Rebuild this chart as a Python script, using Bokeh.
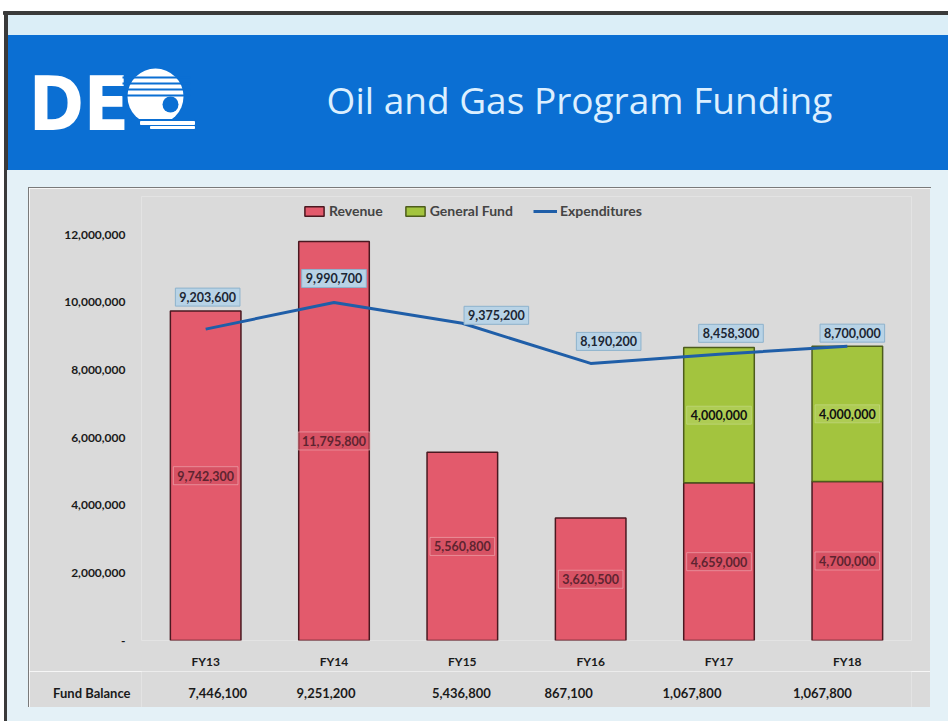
import numpy as np
from bokeh.plotting import figure
from bokeh.models import (Range1d, ColumnDataSource, FixedTicker, NumeralTickFormatter,
                          Legend, LegendItem, Spacer)
from bokeh.layouts import column, row
from bokeh.core.properties import value
from bokeh.embed import file_html
from bokeh.resources import INLINE

# ---------------- data ----------------
fiscal_years = ["FY13", "FY14", "FY15", "FY16", "FY17", "FY18"]
revenue = [9742300, 11795800, 5560800, 3620500, 4659000, 4700000]
general_fund = [None, None, None, None, 4000000, 4000000]
expenditures = [9203600, 9990700, 9375200, 8190200, 8458300, 8700000]
fund_balance = [7446100, 9251200, 5436800, 867100, 1067800, 1067800]
fund_balance_label = "Fund Balance"
y_ticks = [0, 2000000, 4000000, 6000000, 8000000, 10000000, 12000000]
title_text = "Oil and Gas Program Funding"

# label nudges in screen pixels (layout only)
exp_dx = [2, 0, 34, 18, 12, 5]
exp_dy = [-32, -24, -8, -22, -21, -13]
fb_dx = [12, -8, -1, -22, -27, -25]

# ---------------- styles ----------------
RED = "#e35a6c"
RED_EDGE = "#4a1820"
GREEN = "#a3c43e"
GREEN_EDGE = "#4d5c1c"
LINE_BLUE = "#1f5ea8"
GREY = "#dadada"
PALE = "#e4f1f7"
HEADER_BLUE = "#0b6fd3"
FONT = "Lato"
TXT = "#1a1a1a"

gf = np.array([np.nan if g is None else g for g in general_fund], dtype=float)
rev = np.array(revenue, dtype=float)
src = ColumnDataSource(dict(
    fy=fiscal_years,
    revenue=rev,
    general=gf,
    exp=np.array(expenditures, dtype=float),
    rev_mid=rev / 2.0,
    rev_txt=[f"{v:,}" for v in revenue],
    exp_txt=[f"{v:,}" for v in expenditures],
    dx=exp_dx,
    dy=exp_dy,
))
gi = [i for i, g in enumerate(general_fund) if g]
gsrc = ColumnDataSource(dict(
    fy=[fiscal_years[i] for i in gi],
    mid=[revenue[i] + general_fund[i] / 2.0 for i in gi],
    txt=[f"{general_fund[i]:,}" for i in gi],
))

# ---------------- chart ----------------
# frame: 444 px tall, 12,000,000 sits 406 px above the baseline
y_top = 12000000 * 444 / 406
p = figure(x_range=fiscal_years, y_range=Range1d(0, y_top),
           width=901, height=483, output_backend="svg", toolbar_location=None,
           min_border_left=112, min_border_right=19, min_border_top=8, min_border_bottom=31,
           background_fill_color=GREY, border_fill_color=GREY, outline_line_color=None)
p.xgrid.visible = False
p.ygrid.visible = False

rs = p.vbar_stack(["revenue", "general"], x="fy", width=0.55, source=src,
                  fill_color=[RED, GREEN], line_color=[RED_EDGE, GREEN_EDGE], line_width=1.5)
lr = p.line(x="fy", y="exp", source=src, line_color=LINE_BLUE, line_width=3)

p.text(x="fy", y="rev_mid", text="rev_txt", source=src,
       text_font=value(FONT), text_font_style="bold", text_font_size="12.5px",
       text_align="center", text_baseline="middle", text_color="#5e2430",
       background_fill_color="#c84a5c", background_fill_alpha=0.45,
       border_line_color="#f0b0b8", border_line_alpha=0.6, padding=4)
p.text(x="fy", y="mid", text="txt", source=gsrc,
       text_font=value(FONT), text_font_style="bold", text_font_size="12.5px",
       text_align="center", text_baseline="middle", text_color="#111111",
       background_fill_color="#b9d46a", background_fill_alpha=0.5,
       border_line_color="#c8dc8c", border_line_alpha=0.6, padding=4)
p.text(x="fy", y="exp", text="exp_txt", source=src, x_offset="dx", y_offset="dy",
       text_font=value(FONT), text_font_style="bold", text_font_size="12.5px",
       text_align="center", text_baseline="middle", text_color="#1c2633",
       background_fill_color="#b8d3e6", background_fill_alpha=1.0,
       border_line_color="#8db2cc", padding=4)


def style_axis(ax, size, standoff):
    ax.axis_line_color = None
    ax.major_tick_line_color = None
    ax.minor_tick_line_color = None
    ax.major_tick_out = 0
    ax.major_tick_in = 0
    ax.major_label_standoff = standoff
    ax.major_label_text_font = FONT
    ax.major_label_text_font_style = "bold"
    ax.major_label_text_font_size = size
    ax.major_label_text_color = TXT


# y axis
yax = p.yaxis[0]
yax.ticker = FixedTicker(ticks=y_ticks)
yax.formatter = NumeralTickFormatter(format="0,0")
yax.major_label_overrides = {0: "-"}
style_axis(yax, "12px", 16)

# x axis (fiscal years)
style_axis(p.xaxis[0], "12px", 13)

legend = Legend(items=[LegendItem(label="Revenue", renderers=[rs[0]]),
                       LegendItem(label="General Fund", renderers=[rs[1]]),
                       LegendItem(label="Expenditures", renderers=[lr])],
                orientation="horizontal", location=(161, 421),
                background_fill_alpha=0, border_line_color=None,
                label_text_font=FONT, label_text_font_style="bold", label_text_font_size="14px",
                glyph_width=24, glyph_height=12, label_standoff=3, spacing=20,
                padding=0, margin=0, label_height=16)
p.add_layout(legend, "center")

# ---------------- fund balance row (shares the category scale) ----------------
fb = figure(x_range=p.x_range, y_range=Range1d(0, 1.2), width=901, height=36,
            output_backend="svg", toolbar_location=None, x_axis_type=None,
            min_border_left=112, min_border_right=19, min_border_top=0, min_border_bottom=0,
            outline_line_color=None, background_fill_color=GREY, border_fill_color=GREY)
fb.xgrid.visible = False
fb.ygrid.visible = False
fb_src = ColumnDataSource(dict(
    fy=fiscal_years,
    y=[0.5] * len(fiscal_years),
    txt=[f"{v:,}" for v in fund_balance],
    dx=fb_dx,
))
fb.text(x="fy", y="y", text="txt", source=fb_src, x_offset="dx",
        text_font=value(FONT), text_font_style="bold", text_font_size="13px",
        text_color=TXT, text_align="center", text_baseline="middle")
fbax = fb.yaxis[0]
fbax.ticker = FixedTicker(ticks=[0.5])
fbax.major_label_overrides = {0.5: fund_balance_label}
style_axis(fbax, "13px", 11)

chart_box = column(p, fb, styles={"outline": "1px solid #7a7a7a"})

# ---------------- header ----------------
h = figure(width=948, height=170, x_range=Range1d(0, 948), y_range=Range1d(170, 0),
           output_backend="svg", toolbar_location=None, x_axis_type=None, y_axis_type=None,
           min_border=0, outline_line_color=None, background_fill_color="white",
           border_fill_color="white")
h.xgrid.visible = False
h.ygrid.visible = False
h.quad(left=[7], right=[948], top=[14], bottom=[35], color="#dbeef7")
h.quad(left=[7], right=[948], top=[35], bottom=[170], color=HEADER_BLUE)
h.quad(left=[3], right=[948], top=[11], bottom=[14], color="#3a3a3a")
h.quad(left=[4], right=[7], top=[11], bottom=[170], color="#3a3a3a")
h.text(x=[579], y=[99], text=[title_text], text_font=value("Open Sans"),
       text_font_size="37px", text_color="#dcefff", text_align="center", text_baseline="middle")
h.text(x=[56, 106], y=[103, 103], text=["D", "E"],
       text_font=value("'DejaVu Sans Condensed', 'Liberation Sans', sans-serif"),
       text_font_style="bold", text_font_size="74px", text_color="white",
       text_align="center", text_baseline="middle")
# globe mark of the logo
h.circle(x=[155], y=[96], radius=28, fill_color="white", line_color=None)
h.segment(x0=[122, 122, 122, 122], y0=[77, 83, 89, 95], x1=[190, 190, 190, 190],
          y1=[77, 83, 89, 95], line_color=HEADER_BLUE, line_width=2)
h.circle(x=[170], y=[104], radius=8, fill_color=HEADER_BLUE, line_color=None)
h.quad(left=[131], right=[194], top=[119], bottom=[121], color=HEADER_BLUE)
h.quad(left=[140], right=[194], top=[121], bottom=[124], color="white")
h.quad(left=[150], right=[194], top=[126], bottom=[128], color="white")

# ---------------- page layout ----------------
edge_bg = "linear-gradient(to right, #ffffff 0px, #ffffff 4px, #3a3a3a 4px, #3a3a3a 7px, %s 7px)" % PALE
top_pad = Spacer(width=948, height=18, styles={"background": edge_bg})
left_pad = Spacer(width=29, height=519, styles={"background": edge_bg})
right_pad = Spacer(width=18, height=519, styles={"background": PALE})
bottom_pad = Spacer(width=948, height=14, styles={"background": edge_bg})
page = column(h, top_pad, row(left_pad, chart_box, right_pad), bottom_pad)

open("out.html", "w").write(file_html(page, INLINE))
